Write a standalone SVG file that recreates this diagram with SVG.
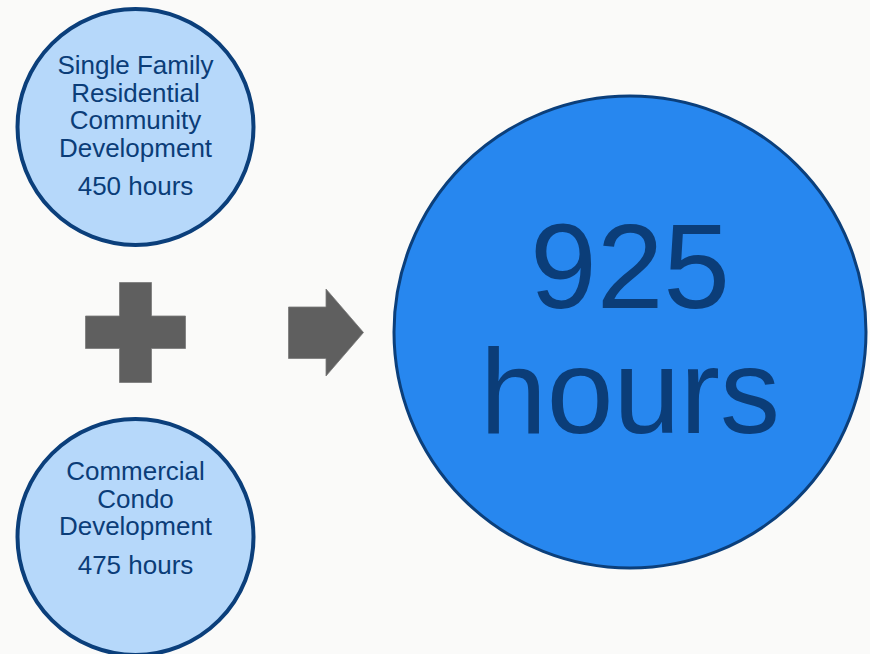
<svg xmlns="http://www.w3.org/2000/svg" width="870" height="654" viewBox="0 0 870 654">
  <style>
    .small { fill: #b6d8fa; stroke: #0b3f7b; stroke-width: 4; }
    .big { fill: #2787ef; stroke: #0b3f7b; stroke-width: 3; }
    .lbl { font-family: "Liberation Sans", Arial, sans-serif; font-size: 26px; fill: #0b3d78; text-anchor: middle; }
    .huge { font-family: "Liberation Sans", Arial, sans-serif; font-size: 120px; fill: #0b3d78; text-anchor: middle; }
    .op { fill: #5f5f5f; stroke: #7a7a7a; stroke-width: 0.8; }
  </style>
  <rect width="870" height="654" fill="#fafaf9"/>
  <g id="node-single-family">
    <circle class="small" cx="135.5" cy="127" r="118"/>
    <text class="lbl" x="135.5" y="74">Single Family</text>
    <text class="lbl" x="135.5" y="101.5">Residential</text>
    <text class="lbl" x="135.5" y="129">Community</text>
    <text class="lbl" x="135.5" y="156.5">Development</text>
    <text class="lbl" x="135.5" y="195">450 hours</text>
  </g>
  <g id="node-commercial-condo">
    <circle class="small" cx="135.5" cy="537" r="118"/>
    <text class="lbl" x="135.5" y="480">Commercial</text>
    <text class="lbl" x="135.5" y="507.5">Condo</text>
    <text class="lbl" x="135.5" y="535">Development</text>
    <text class="lbl" x="135.5" y="573.5">475 hours</text>
  </g>
  <g id="node-total">
    <circle class="big" cx="630" cy="332" r="236"/>
    <text class="huge" x="630" y="308">925</text>
    <text class="huge" x="630" y="433">hours</text>
  </g>
  <g id="connectors">
    <path id="plus" class="op" d="M119.5,282.5 H151.5 V316 H185.5 V348.5 H151.5 V382.5 H119.5 V348.5 H85.5 V316 H119.5 Z"/>
    <path id="arrow" class="op" d="M288.5,307 H326 V289 L363.5,332.5 L326,376 V358.5 H288.5 Z"/>
  </g>
</svg>
